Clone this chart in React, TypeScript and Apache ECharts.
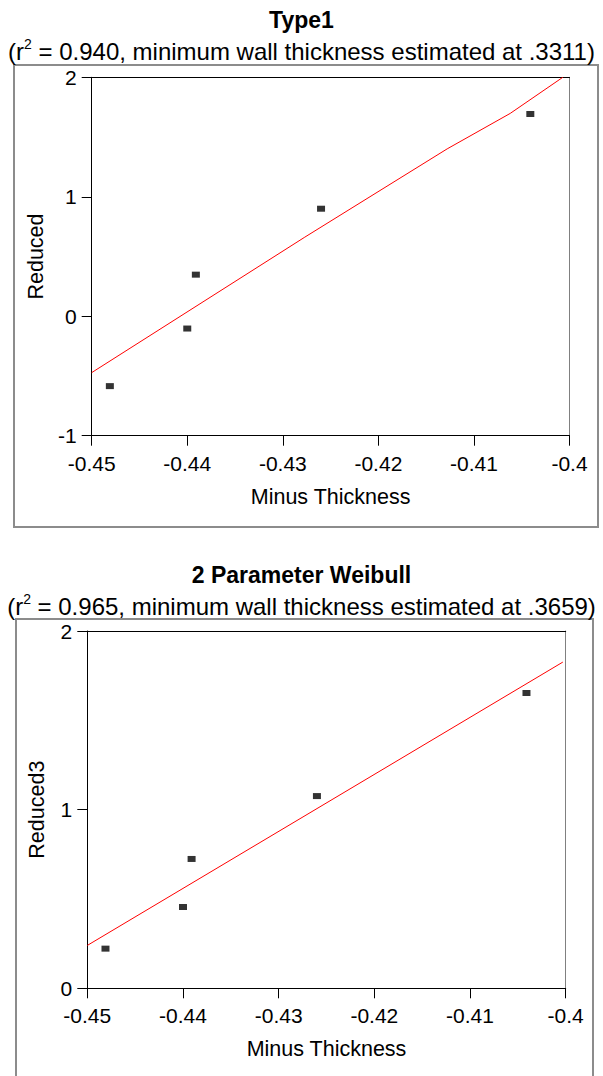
import { useEffect, useRef } from "react";
import * as echarts from "echarts";

// Measured wall thickness (negated) shared by both probability plots
const minusThickness = [-0.4481, -0.44, -0.4391, -0.426, -0.4041];

// Reduced variates for the Type 1 extreme-value plot
const reducedType1 = [-0.585, -0.103, 0.348, 0.9, 1.693];
// Fitted curve for the Type 1 plot
const fitType1X = [-0.45, -0.4277, -0.4128, -0.4062, -0.4007];
const fitType1Y = [-0.472, 0.662, 1.401, 1.698, 2.0];

// Reduced variates for the 2 parameter Weibull plot
const reducedWeibull = [0.222, 0.455, 0.724, 1.076, 1.653];
// Fitted line for the Weibull plot
const fitWeibullX = [-0.45, -0.4003];
const fitWeibullY = [0.24, 1.826];

const titles = ["Type1", "2 Parameter Weibull"];
const rSquared = ["0.940", "0.965"];
const minWall = [".3311", ".3659"];
const yNames = ["Reduced", "Reduced3"];
const xName = "Minus Thickness";

const X_MIN = -0.45;
const X_MAX = -0.4;
const X_STEP = 0.01;
const yRanges = [
  [-1, 2],
  [0, 2],
];

const FONT = "'Liberation Sans', Arial, Helvetica, sans-serif";

const pairs = (xs: number[], ys: number[]) => xs.map((x, i) => [x, ys[i]]);

export default function App() {
  const ref = useRef<HTMLDivElement>(null);

  useEffect(() => {
    if (!ref.current) return;
    const chart = echarts.init(ref.current, null, { renderer: "svg" });

    const grids = [
      { left: 91.7, top: 77.3, width: 477.8, height: 358.4 },
      { left: 87.3, top: 631, width: 478.4, height: 357.3 },
    ];
    const titleTops = [3, 558];
    const subTops = [32, 587];
    const yNameGaps = [42, 39];

    const fmtX = (v: number) => String(+v.toFixed(2));

    const title: any[] = [];
    titles.forEach((t, i) => {
      title.push({
        text: t,
        left: "center",
        top: titleTops[i],
        textStyle: { fontFamily: FONT, fontWeight: "bold", fontSize: 23, color: "#000" },
      });
      title.push({
        text: `{t|(r}{sup|2}{t| = ${rSquared[i]}, minimum wall thickness estimated at ${minWall[i]})}`,
        left: "center",
        top: subTops[i],
        textStyle: {
          fontWeight: "normal",
          rich: {
            t: { fontFamily: FONT, fontWeight: "normal", fontSize: 24, color: "#000", lineHeight: 26, verticalAlign: "bottom" },
            sup: { fontFamily: FONT, fontWeight: "normal", fontSize: 14, color: "#000", lineHeight: 26, verticalAlign: "top", padding: [0, 0, 2, 0] },
          },
        },
      });
    });

    const xAxis: any[] = [];
    const yAxis: any[] = [];
    grids.forEach((_, i) => {
      // bottom value axis
      xAxis.push({
        type: "value",
        gridIndex: i,
        min: X_MIN,
        max: X_MAX,
        interval: X_STEP,
        name: xName,
        nameLocation: "middle",
        nameGap: 50,
        nameTextStyle: { fontFamily: FONT, fontSize: 21.5, color: "#000" },
        axisLine: { show: true, onZero: false, lineStyle: { color: "#000", width: 1 } },
        axisTick: { show: true, length: 10, lineStyle: { color: "#000" } },
        axisLabel: { fontFamily: FONT, fontSize: 21, color: "#000", margin: 17, formatter: fmtX },
        splitLine: { show: false },
      });
      // top frame edge
      xAxis.push({
        type: "value",
        gridIndex: i,
        position: "top",
        min: X_MIN,
        max: X_MAX,
        axisLine: { show: true, onZero: false, lineStyle: { color: "#000", width: 1 } },
        axisTick: { show: false },
        axisLabel: { show: false },
        splitLine: { show: false },
      });
      yAxis.push({
        type: "value",
        gridIndex: i,
        min: yRanges[i][0],
        max: yRanges[i][1],
        interval: 1,
        name: yNames[i],
        nameLocation: "middle",
        nameGap: yNameGaps[i],
        nameTextStyle: { fontFamily: FONT, fontSize: 21.5, color: "#000" },
        axisLine: { show: true, onZero: false, lineStyle: { color: "#000", width: 1 } },
        axisTick: { show: true, length: 10, lineStyle: { color: "#000" } },
        axisLabel: { fontFamily: FONT, fontSize: 21, color: "#000", margin: 15 },
        splitLine: { show: false },
      });
      // right frame edge
      yAxis.push({
        type: "value",
        gridIndex: i,
        position: "right",
        min: yRanges[i][0],
        max: yRanges[i][1],
        axisLine: { show: true, onZero: false, lineStyle: { color: "#808080", width: 1 } },
        axisTick: { show: false },
        axisLabel: { show: false },
        splitLine: { show: false },
      });
    });

    const pointStyle = {
      type: "scatter",
      symbol: "rect",
      symbolSize: [8, 6],
      itemStyle: { color: "#000" },
      silent: true,
    };
    const lineStyle = {
      type: "line",
      showSymbol: false,
      symbol: "none",
      lineStyle: { color: "#ff0000", width: 1 },
      silent: true,
    };

    chart.setOption({
      animation: false,
      backgroundColor: "#fff",
      title,
      grid: grids,
      xAxis,
      yAxis,
      graphic: [
        {
          type: "rect",
          shape: { x: 14, y: 65, width: 584, height: 462 },
          style: { fill: "none", stroke: "#8c8c8c", lineWidth: 2 },
          silent: true,
        },
        {
          type: "rect",
          shape: { x: 16, y: 619, width: 577, height: 480 },
          style: { fill: "none", stroke: "#8c8c8c", lineWidth: 2 },
          silent: true,
        },
      ],
      series: [
        { ...lineStyle, xAxisIndex: 0, yAxisIndex: 0, data: pairs(fitType1X, fitType1Y) },
        { ...pointStyle, xAxisIndex: 0, yAxisIndex: 0, data: pairs(minusThickness, reducedType1) },
        { ...lineStyle, xAxisIndex: 2, yAxisIndex: 2, data: pairs(fitWeibullX, fitWeibullY) },
        { ...pointStyle, xAxisIndex: 2, yAxisIndex: 2, data: pairs(minusThickness, reducedWeibull) },
      ],
    });

    return () => chart.dispose();
  }, []);

  return (
    <div
      ref={ref}
      style={{ position: "absolute", left: 0, top: 0, width: 603, height: 1076, background: "#fff" }}
    />
  );
}
